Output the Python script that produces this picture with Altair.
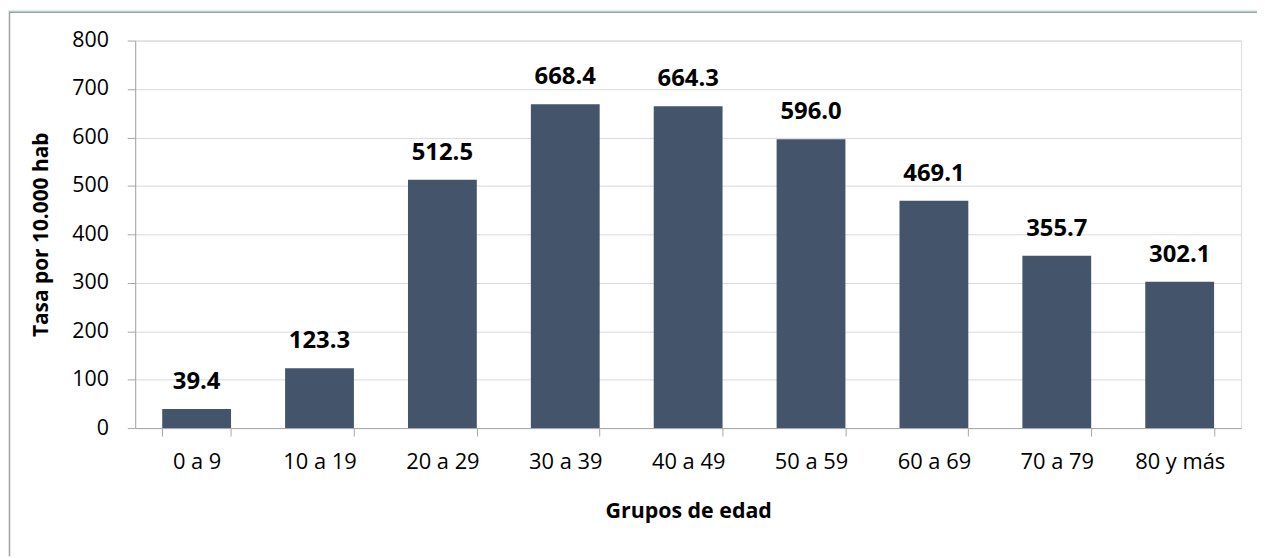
import altair as alt
import pandas as pd

grupos = ["0 a 9", "10 a 19", "20 a 29", "30 a 39", "40 a 49", "50 a 59", "60 a 69", "70 a 79", "80 y más"]
tasas = [39.4, 123.3, 512.5, 668.4, 664.3, 596.0, 469.1, 355.7, 302.1]

df = pd.DataFrame({"grupo": grupos, "tasa": tasas})
df["etiqueta"] = [f"{v:.1f}" for v in tasas]

FONT = "Open Sans"
W, H = 1113, 390
PAD_L, PAD_T, PAD_R, PAD_B = 128, 31, 16, 129

x = alt.X(
    "grupo:N",
    sort=grupos,
    scale=alt.Scale(paddingInner=0.44, paddingOuter=0.22),
    axis=alt.Axis(
        title="Grupos de edad",
        titleFont=FONT, titleFontSize=21.5, titleFontWeight="bold", titleColor="#000000",
        titleY=84, titleBaseline="middle",
        labelFont=FONT, labelFontSize=22, labelColor="#000000", labelAngle=0,
        labelBaseline="alphabetic", labelPadding=33,
        tickBand="extent", tickSize=8, tickColor="#A6A6A6", domainColor="#A6A6A6",
        grid=False,
    ),
)
y = alt.Y(
    "tasa:Q",
    scale=alt.Scale(domain=[0, 800], nice=False),
    axis=alt.Axis(
        title="Tasa por 10.000 hab",
        titleFont=FONT, titleFontSize=21, titleFontWeight="bold", titleColor="#000000",
        titleX=-94, titleY=H / 2, titleBaseline="middle", titleAlign="center", titleAngle=270,
        values=list(range(0, 801, 100)),
        labelFont=FONT, labelFontSize=21.5, labelColor="#000000", labelPadding=19,
        tickSize=8, tickColor="#A6A6A6", domainColor="#A6A6A6",
        grid=True, gridColor="#D9D9D9", gridWidth=1,
    ),
)

bars = alt.Chart(df).mark_bar(color="#44546A").encode(x=x, y=y)
labels = alt.Chart(df).mark_text(
    font=FONT, fontSize=24, fontWeight="bold", color="#000000",
    baseline="alphabetic", dy=-20,
).encode(x=alt.X("grupo:N", sort=grupos), y="tasa:Q", text="etiqueta:N")

frame_data = alt.Data(values=[{"k": 1}])
band = alt.Chart(frame_data).mark_rect(color="#DAEEF3").encode(
    x=alt.value(-PAD_L), x2=alt.value(W + PAD_R), y=alt.value(-PAD_T), y2=alt.value(-PAD_T + 2)
)
top_line = alt.Chart(frame_data).mark_rule(color="#A0A0A0", strokeWidth=1.5).encode(
    x=alt.value(-PAD_L + 1), x2=alt.value(W + PAD_R), y=alt.value(-PAD_T + 2.5)
)
left_line = alt.Chart(frame_data).mark_rule(color="#A0A0A0", strokeWidth=1.5).encode(
    x=alt.value(-PAD_L + 1.5), y=alt.value(-PAD_T + 2), y2=alt.value(H + PAD_B)
)

chart = alt.layer(band, top_line, left_line, bars, labels).properties(
    width=W, height=H,
    autosize=alt.AutoSizeParams(type="none"),
    padding={"left": PAD_L, "top": PAD_T, "right": PAD_R, "bottom": PAD_B},
).configure_view(stroke=None).configure(background="#FFFFFF")

chart.save("out.html", embed_options={"renderer": "svg", "actions": False})
